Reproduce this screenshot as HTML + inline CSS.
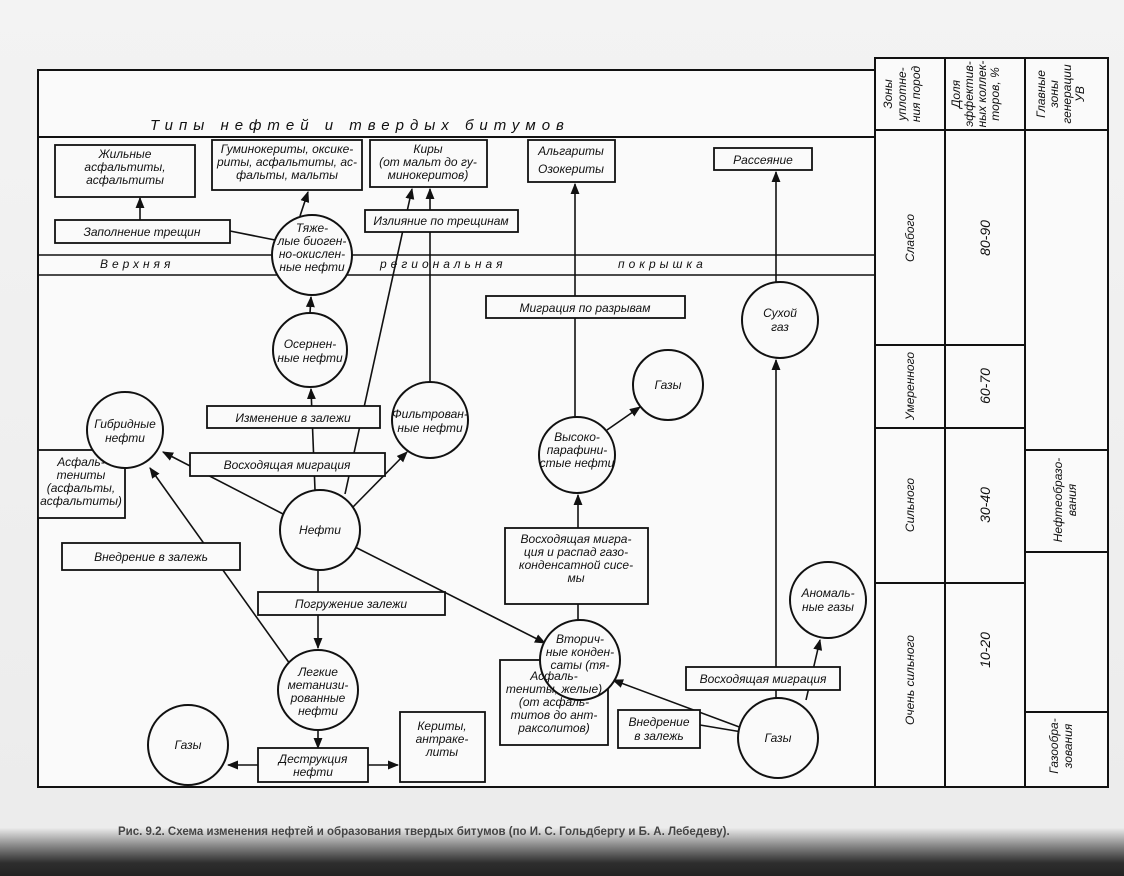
<!DOCTYPE html>
<html><head><meta charset="utf-8"><style>
html,body{margin:0;padding:0;width:1124px;height:876px;overflow:hidden;background:#f3f3f3}
svg text{font-family:"Liberation Sans","DejaVu Sans",sans-serif;font-style:italic;font-size:12px;fill:#111}
</style></head><body>
<svg width="1124" height="876" viewBox="0 0 1124 876" xmlns="http://www.w3.org/2000/svg">
<defs>
<linearGradient id="bg" x1="0" y1="0" x2="0" y2="1">
<stop offset="0" stop-color="#f3f3f3"/><stop offset="0.945" stop-color="#ececec"/><stop offset="0.965" stop-color="#8a8a8a"/><stop offset="0.985" stop-color="#2e2e2e"/><stop offset="1" stop-color="#222"/></linearGradient>
<marker id="a" viewBox="0 0 10 10" refX="9" refY="5" markerWidth="7" markerHeight="7" orient="auto-start-reverse"><path d="M0,1 L10,5 L0,9 z" fill="#111"/></marker>
</defs>
<rect width="1124" height="876" fill="url(#bg)"/>
<g stroke="#111" stroke-width="2" fill="none">
<rect x="38" y="70" width="837" height="717" fill="#fafafa"/>
<rect x="875" y="58" width="233" height="729" fill="#fafafa"/>
<line x1="945" y1="58" x2="945" y2="787"/>
<line x1="1025" y1="58" x2="1025" y2="787"/>
<line x1="875" y1="130" x2="1108" y2="130"/>
<line x1="875" y1="345" x2="1025" y2="345"/>
<line x1="875" y1="428" x2="1025" y2="428"/>
<line x1="875" y1="583" x2="1025" y2="583"/>
<line x1="1025" y1="450" x2="1108" y2="450"/>
<line x1="1025" y1="552" x2="1108" y2="552"/>
<line x1="1025" y1="712" x2="1108" y2="712"/>
<line x1="38" y1="137" x2="875" y2="137"/>
<line x1="38" y1="255" x2="875" y2="255" stroke-width="1.5"/>
<line x1="38" y1="275" x2="875" y2="275" stroke-width="1.5"/>
</g>
<g stroke="#111" stroke-width="1.6" fill="none" marker-end="url(#a)">
<line x1="140" y1="220" x2="140" y2="198"/>
<line x1="300" y1="216" x2="308" y2="192"/>
<line x1="310" y1="313" x2="311" y2="297"/>
<line x1="315" y1="490" x2="311" y2="389"/>
<line x1="345" y1="494" x2="412" y2="189"/>
<line x1="430" y1="382" x2="430" y2="189"/>
<line x1="352" y1="508" x2="407" y2="452"/>
<line x1="285" y1="515" x2="163" y2="452"/>
<line x1="290" y1="664" x2="150" y2="468"/>
<line x1="318" y1="570" x2="318" y2="648"/>
<line x1="355" y1="547" x2="545" y2="643"/>
<line x1="578" y1="620" x2="578" y2="495"/>
<line x1="607" y1="430" x2="640" y2="407"/>
<line x1="575" y1="417" x2="575" y2="184"/>
<line x1="742" y1="728" x2="613" y2="680"/>
<line x1="776" y1="698" x2="776" y2="360"/>
<line x1="776" y1="282" x2="776" y2="172"/>
<line x1="806" y1="700" x2="820" y2="640"/>
<line x1="318" y1="730" x2="318" y2="748"/>
<line x1="258" y1="765" x2="228" y2="765"/>
<line x1="368" y1="765" x2="398" y2="765"/>
</g>
<g stroke="#111" stroke-width="1.6" fill="none">
<line x1="230" y1="231" x2="275" y2="240"/>
<line x1="100" y1="465" x2="106" y2="450"/>
<line x1="700" y1="725" x2="742" y2="732"/>
</g>
<g stroke="#111" stroke-width="1.8" fill="#fafafa">
<rect x="55" y="145" width="140" height="52"/>
<rect x="212" y="140" width="150" height="50"/>
<rect x="370" y="140" width="117" height="47"/>
<rect x="528" y="140" width="87" height="42"/>
<rect x="714" y="148" width="98" height="22"/>
<rect x="55" y="220" width="175" height="23"/>
<rect x="365" y="210" width="153" height="22"/>
<rect x="486" y="296" width="199" height="22"/>
<rect x="207" y="406" width="173" height="22"/>
<rect x="190" y="453" width="195" height="23"/>
<rect x="38" y="450" width="87" height="68"/>
<rect x="62" y="543" width="178" height="27"/>
<rect x="505" y="528" width="143" height="76"/>
<rect x="258" y="592" width="187" height="23"/>
<rect x="500" y="660" width="108" height="85"/>
<rect x="618" y="710" width="82" height="38"/>
<rect x="686" y="667" width="154" height="23"/>
<rect x="258" y="748" width="110" height="34"/>
<rect x="400" y="712" width="85" height="70"/>
</g>
<g stroke="#111" stroke-width="2" fill="#fafafa">
<circle cx="312" cy="255" r="40"/>
<circle cx="310" cy="350" r="37"/>
<circle cx="125" cy="430" r="38"/>
<circle cx="430" cy="420" r="38"/>
<circle cx="320" cy="530" r="40"/>
<circle cx="318" cy="690" r="40"/>
<circle cx="188" cy="745" r="40"/>
<circle cx="668" cy="385" r="35"/>
<circle cx="577" cy="455" r="38"/>
<circle cx="580" cy="660" r="40"/>
<circle cx="780" cy="320" r="38"/>
<circle cx="828" cy="600" r="38"/>
<circle cx="778" cy="738" r="40"/>
</g>
<text x="150" y="130" style="font-size:15px;letter-spacing:6px">Типы   нефтей   и   твердых   битумов</text>
<text x="100" y="268" style="letter-spacing:4px">Верхняя</text>
<text x="380" y="268" style="letter-spacing:4px">региональная</text>
<text x="618" y="268" style="letter-spacing:4px">покрышка</text>
<g text-anchor="middle">
<text x="125" y="158">Жильные</text><text x="125" y="171">асфальтиты,</text><text x="125" y="184">асфальтиты</text>
<text x="287" y="153">Гуминокериты, оксике-</text><text x="287" y="166">риты, асфальтиты, ас-</text><text x="287" y="179">фальты, мальты</text>
<text x="428" y="153">Киры</text><text x="428" y="166">(от мальт до гу-</text><text x="428" y="179">минокеритов)</text>
<text x="571" y="155">Альгариты</text><text x="571" y="173">Озокериты</text>
<text x="763" y="164">Рассеяние</text>
<text x="142" y="236">Заполнение трещин</text>
<text x="441" y="225">Излияние по трещинам</text>
<text x="585" y="312">Миграция по разрывам</text>
<text x="293" y="422">Изменение в залежи</text>
<text x="287" y="469">Восходящая миграция</text>
<text x="81" y="466">Асфаль-</text><text x="81" y="479">тениты</text><text x="81" y="492">(асфальты,</text><text x="81" y="505">асфальтиты)</text>
<text x="151" y="561">Внедрение в залежь</text>
<text x="576" y="543">Восходящая мигра-</text><text x="576" y="556">ция и распад газо-</text><text x="576" y="569">конденсатной сисе-</text><text x="576" y="582">мы</text>
<text x="351" y="608">Погружение залежи</text>
<text x="554" y="680">Асфаль-</text><text x="554" y="693">тениты, желые)</text><text x="554" y="706">(от асфаль-</text><text x="554" y="719">титов до ант-</text><text x="554" y="732">раксолитов)</text>
<text x="659" y="726">Внедрение</text><text x="659" y="740">в залежь</text>
<text x="763" y="683">Восходящая миграция</text>
<text x="313" y="763">Деструкция</text><text x="313" y="776">нефти</text>
<text x="442" y="730">Кериты,</text><text x="442" y="743">антраке-</text><text x="442" y="756">литы</text>
<text x="312" y="232">Тяже-</text><text x="312" y="245">лые биоген-</text><text x="312" y="258">но-окислен-</text><text x="312" y="271">ные нефти</text>
<text x="310" y="348">Осернен-</text><text x="310" y="362">ные нефти</text>
<text x="125" y="428">Гибридные</text><text x="125" y="442">нефти</text>
<text x="430" y="418">Фильтрован-</text><text x="430" y="432">ные нефти</text>
<text x="320" y="534">Нефти</text>
<text x="318" y="676">Легкие</text><text x="318" y="689">метанизи-</text><text x="318" y="702">рованные</text><text x="318" y="715">нефти</text>
<text x="188" y="749">Газы</text>
<text x="668" y="389">Газы</text>
<text x="577" y="441">Высоко-</text><text x="577" y="454">парафини-</text><text x="577" y="467">стые нефти</text>
<text x="580" y="643">Вторич-</text><text x="580" y="656">ные конден-</text><text x="580" y="669">саты (тя-</text>
<text x="780" y="317">Сухой</text><text x="780" y="331">газ</text>
<text x="828" y="597">Аномаль-</text><text x="828" y="611">ные газы</text>
<text x="778" y="742">Газы</text>
</g>
<g text-anchor="middle">
<text transform="translate(892,94) rotate(-90)">Зоны</text>
<text transform="translate(906,94) rotate(-90)">уплотне-</text>
<text transform="translate(920,94) rotate(-90)">ния пород</text>
<text transform="translate(960,94) rotate(-90)">Доля</text>
<text transform="translate(973,94) rotate(-90)">эффектив-</text>
<text transform="translate(986,94) rotate(-90)">ных коллек-</text>
<text transform="translate(999,94) rotate(-90)">торов, %</text>
<text transform="translate(1045,94) rotate(-90)">Главные</text>
<text transform="translate(1058,94) rotate(-90)">зоны</text>
<text transform="translate(1071,94) rotate(-90)">генерации</text>
<text transform="translate(1084,94) rotate(-90)">УВ</text>
<text transform="translate(914,238) rotate(-90)">Слабого</text>
<text transform="translate(914,386) rotate(-90)">Умеренного</text>
<text transform="translate(914,505) rotate(-90)">Сильного</text>
<text transform="translate(914,680) rotate(-90)">Очень сильного</text>
<text transform="translate(990,238) rotate(-90)" style="font-size:14px">80-90</text>
<text transform="translate(990,386) rotate(-90)" style="font-size:14px">60-70</text>
<text transform="translate(990,505) rotate(-90)" style="font-size:14px">30-40</text>
<text transform="translate(990,650) rotate(-90)" style="font-size:14px">10-20</text>
<text transform="translate(1062,500) rotate(-90)">Нефтеобразо-</text>
<text transform="translate(1076,500) rotate(-90)">вания</text>
<text transform="translate(1058,746) rotate(-90)">Газообра-</text>
<text transform="translate(1072,746) rotate(-90)">зования</text>
</g>
<text x="118" y="835" style="font-style:normal;font-size:11.5px;font-weight:bold;fill:#444">Рис. 9.2. Схема изменения нефтей и образования твердых битумов (по И. С. Гольдбергу и Б. А. Лебедеву).</text>
</svg>
</body></html>
